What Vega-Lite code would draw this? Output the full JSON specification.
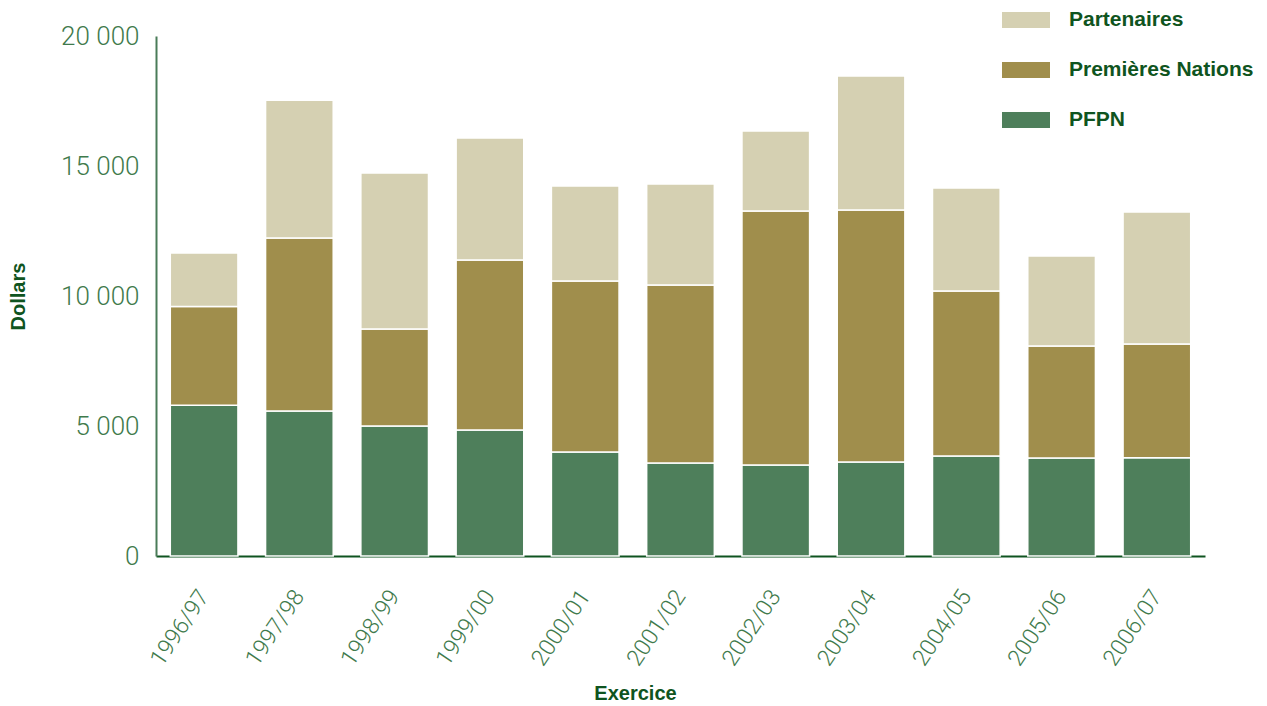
{
  "$schema": "https://vega.github.io/schema/vega-lite/v6.json",
  "width": 1049,
  "height": 520,
  "autosize": {"type": "none"},
  "padding": {"left": 156, "top": 36, "right": 62, "bottom": 150},
  "background": "white",
  "data": {
    "values": [
      {"exercice": "1996/97", "serie": "PFPN", "ordre": 1, "dollars": 5800},
      {"exercice": "1996/97", "serie": "Premières Nations", "ordre": 2, "dollars": 3800},
      {"exercice": "1996/97", "serie": "Partenaires", "ordre": 3, "dollars": 2050},
      {"exercice": "1997/98", "serie": "PFPN", "ordre": 1, "dollars": 5580},
      {"exercice": "1997/98", "serie": "Premières Nations", "ordre": 2, "dollars": 6650},
      {"exercice": "1997/98", "serie": "Partenaires", "ordre": 3, "dollars": 5300},
      {"exercice": "1998/99", "serie": "PFPN", "ordre": 1, "dollars": 5000},
      {"exercice": "1998/99", "serie": "Premières Nations", "ordre": 2, "dollars": 3730},
      {"exercice": "1998/99", "serie": "Partenaires", "ordre": 3, "dollars": 6000},
      {"exercice": "1999/00", "serie": "PFPN", "ordre": 1, "dollars": 4850},
      {"exercice": "1999/00", "serie": "Premières Nations", "ordre": 2, "dollars": 6530},
      {"exercice": "1999/00", "serie": "Partenaires", "ordre": 3, "dollars": 4700},
      {"exercice": "2000/01", "serie": "PFPN", "ordre": 1, "dollars": 4000},
      {"exercice": "2000/01", "serie": "Premières Nations", "ordre": 2, "dollars": 6580},
      {"exercice": "2000/01", "serie": "Partenaires", "ordre": 3, "dollars": 3650},
      {"exercice": "2001/02", "serie": "PFPN", "ordre": 1, "dollars": 3580},
      {"exercice": "2001/02", "serie": "Premières Nations", "ordre": 2, "dollars": 6840},
      {"exercice": "2001/02", "serie": "Partenaires", "ordre": 3, "dollars": 3890},
      {"exercice": "2002/03", "serie": "PFPN", "ordre": 1, "dollars": 3500},
      {"exercice": "2002/03", "serie": "Premières Nations", "ordre": 2, "dollars": 9770},
      {"exercice": "2002/03", "serie": "Partenaires", "ordre": 3, "dollars": 3080},
      {"exercice": "2003/04", "serie": "PFPN", "ordre": 1, "dollars": 3620},
      {"exercice": "2003/04", "serie": "Premières Nations", "ordre": 2, "dollars": 9690},
      {"exercice": "2003/04", "serie": "Partenaires", "ordre": 3, "dollars": 5150},
      {"exercice": "2004/05", "serie": "PFPN", "ordre": 1, "dollars": 3850},
      {"exercice": "2004/05", "serie": "Premières Nations", "ordre": 2, "dollars": 6340},
      {"exercice": "2004/05", "serie": "Partenaires", "ordre": 3, "dollars": 3960},
      {"exercice": "2005/06", "serie": "PFPN", "ordre": 1, "dollars": 3770},
      {"exercice": "2005/06", "serie": "Premières Nations", "ordre": 2, "dollars": 4310},
      {"exercice": "2005/06", "serie": "Partenaires", "ordre": 3, "dollars": 3460},
      {"exercice": "2006/07", "serie": "PFPN", "ordre": 1, "dollars": 3780},
      {"exercice": "2006/07", "serie": "Premières Nations", "ordre": 2, "dollars": 4370},
      {"exercice": "2006/07", "serie": "Partenaires", "ordre": 3, "dollars": 5080}
    ]
  },
  "mark": {"type": "bar", "stroke": "white", "strokeWidth": 1.5},
  "encoding": {
    "x": {
      "field": "exercice",
      "type": "nominal",
      "sort": null,
      "scale": {"paddingInner": 0.29, "paddingOuter": 0.15},
      "axis": {
        "title": "Exercice",
        "titleFont": "Liberation Sans",
        "titleFontWeight": "bold",
        "titleFontSize": 20,
        "titleColor": "#0f5420",
        "titlePadding": 14,
        "titleX": 479,
        "labelAngle": -56,
        "labelAlign": "right",
        "labelBaseline": "middle",
        "labelFont": "Roboto",
        "labelFontWeight": 300,
        "labelFontSize": 23,
        "labelColor": "#3f7a4c",
        "labelPadding": 36,
        "labelDx": 4,
        "ticks": false,
        "domainColor": "#0f5420",
        "domainWidth": 2
      }
    },
    "y": {
      "field": "dollars",
      "type": "quantitative",
      "aggregate": "sum",
      "stack": "zero",
      "scale": {"domain": [0, 20000], "nice": false},
      "axis": {
        "title": "Dollars",
        "titleFont": "Liberation Sans",
        "titleFontWeight": "bold",
        "titleFontSize": 20,
        "titleColor": "#0f5420",
        "titleAngle": -90,
        "titleX": -128,
        "titleY": 260,
        "values": [0, 5000, 10000, 15000, 20000],
        "labelExpr": "replace(format(datum.value, ','), ',', ' ')",
        "labelFont": "Roboto",
        "labelFontWeight": 300,
        "labelFontSize": 26,
        "labelColor": "#3f7a4c",
        "labelPadding": 17,
        "ticks": false,
        "grid": false,
        "domainColor": "#4a7c59",
        "domainWidth": 2
      }
    },
    "color": {
      "field": "serie",
      "type": "nominal",
      "scale": {
        "domain": ["Partenaires", "Premières Nations", "PFPN"],
        "range": ["#d5d0b2", "#a08e4c", "#4e7f5b"]
      },
      "legend": {
        "title": null,
        "orient": "none",
        "legendX": 846,
        "legendY": -40,
        "symbolType": "M-1,-0.333H1V0.333H-1Z",
        "symbolSize": 2304,
        "symbolStrokeWidth": 0,
        "symbolOpacity": 1,
        "labelFont": "Liberation Sans",
        "labelFontWeight": "bold",
        "labelFontSize": 21,
        "labelColor": "#0f5420",
        "labelOffset": 19,
        "labelLimit": 400,
        "rowPadding": 16
      }
    },
    "order": {"field": "ordre", "type": "quantitative"}
  },
  "config": {"view": {"stroke": null}}
}
